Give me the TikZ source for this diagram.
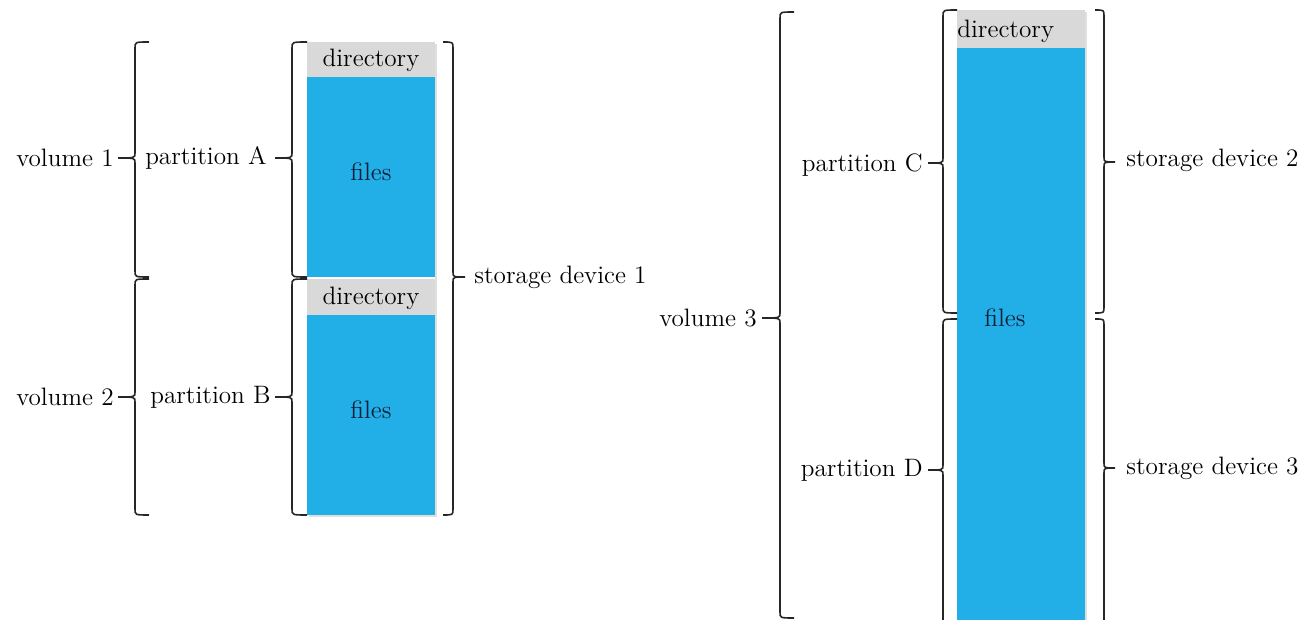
\documentclass[tikz,border=0pt]{standalone}
\usepackage{tikz}
\usetikzlibrary{shadows}
\definecolor{fileblue}{HTML}{22AFE8}
\definecolor{dirgray}{HTML}{D9D9D9}
\definecolor{filetext}{HTML}{0F1E36}
\tikzset{>=stealth}
\tikzset{
  curly/.style={line width=0.8pt, black!85},
  lbl/.style={font=\fontsize{12.6}{15}\selectfont, inner sep=1pt},
  boxshadow/.style={fill=white, drop shadow={shadow xshift=1.2pt, shadow yshift=-1.2pt, opacity=0.25}},
}
% spine x, hook x, tip x, top y, bottom y, tip y
\newcommand{\curly}[6]{%
  \draw[curly] (#2,#4) .. controls (#1,#4) .. (#1,#4+6)
    -- (#1,#6-5) .. controls (#1,#6) .. (#3,#6)
    .. controls (#1,#6) .. (#1,#6+5)
    -- (#1,#5-6) .. controls (#1,#5) .. (#2,#5);}

\begin{document}
\begin{tikzpicture}[x=0.5pt, y=-0.5pt]
  \useasboundingbox (0,0) rectangle (1303,620);

  % left device: two partitions
  \path[boxshadow] (307,42) rectangle (435,515);
  \fill[dirgray] (307,42) rectangle (435,77);
  \fill[fileblue] (307,77) rectangle (435,277);
  \fill[dirgray] (307,279) rectangle (435,315);
  \fill[fileblue] (307,315) rectangle (435,515);
  \node[lbl] (dirA) at (371,60) {directory};
  \node[lbl, text=filetext] (filesA) at (371,172) {files};
  \node[lbl] (dirB) at (371,298) {directory};
  \node[lbl, text=filetext] (filesB) at (371,410) {files};

  \curly{292}{307}{275}{42}{277}{158}
  \curly{292}{307}{275}{279}{515}{397}
  \curly{135}{149}{118}{42}{277}{158}
  \curly{135}{149}{118}{279}{515}{397}
  \curly{453}{443}{465}{42}{515}{277}

  \node[lbl, anchor=east] (vol1) at (116,158) {volume 1};
  \node[lbl, anchor=east] (partA) at (269,158) {partition A};
  \node[lbl, anchor=east] (vol2) at (116,397) {volume 2};
  \node[lbl, anchor=east] (partB) at (273,397) {partition B};
  \node[lbl, anchor=west] (dev1) at (472,277) {storage device 1};

  % right volume over two devices
  \path[boxshadow] (957,10) rectangle (1085,620);
  \fill[dirgray] (957,10) rectangle (1085,48);
  \fill[fileblue] (957,48) rectangle (1085,620);
  \node[lbl, anchor=west] (dirC) at (955,31) {directory};
  \node[lbl, text=filetext] (filesC) at (1005,318) {files};

  \curly{943}{957}{928}{10}{313}{163}
  \curly{943}{957}{928}{319}{630}{470}
  \curly{780}{794}{762}{12}{618}{318}
  \curly{1104}{1095}{1115}{10}{313}{162}
  \curly{1104}{1095}{1115}{319}{630}{468}

  \node[lbl, anchor=east] (vol3) at (759,318) {volume 3};
  \node[lbl, anchor=east] (partC) at (925,165) {partition C};
  \node[lbl, anchor=east] (partD) at (925,470) {partition D};
  \node[lbl, anchor=west] (dev2) at (1124,160) {storage device 2};
  \node[lbl, anchor=west] (dev3) at (1124,468) {storage device 3};
\end{tikzpicture}
\end{document}
